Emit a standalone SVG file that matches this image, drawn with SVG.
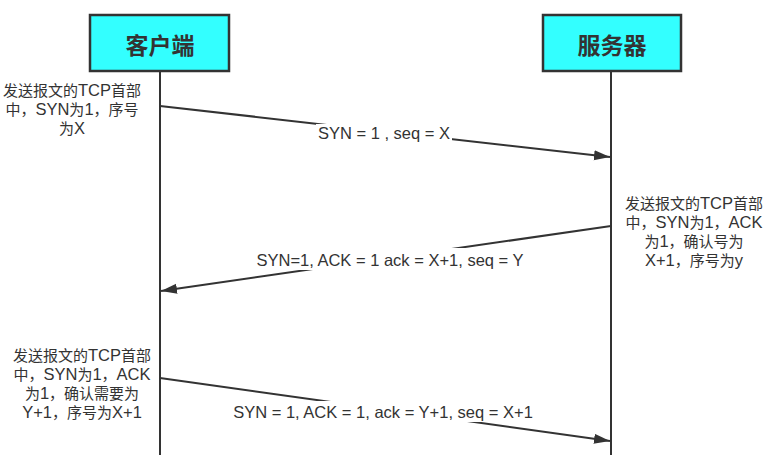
<svg xmlns="http://www.w3.org/2000/svg" width="782" height="455" viewBox="0 0 782 455">
<style>
.box{fill:#33FFFF;stroke:#333;stroke-width:2.5}
.title{font-family:"Noto Sans CJK SC","Microsoft YaHei",sans-serif;font-size:23px;font-weight:bold;fill:#333;text-anchor:middle;dominant-baseline:central}
.life{stroke:#333;stroke-width:2;fill:none}
.msg{stroke:#333;stroke-width:2;fill:none;marker-end:url(#ah)}
.t{font-family:"Liberation Sans","Noto Sans CJK SC",sans-serif;font-size:16.5px;fill:#333;text-anchor:middle}
.c{font-size:15px}
.bg{fill:#fff}
</style>
<defs>
<marker id="ah" markerUnits="userSpaceOnUse" markerWidth="18" markerHeight="12" refX="16" refY="5" orient="auto">
<path d="M0,0 L16,5 L0,10 z" fill="#333"/>
</marker>
</defs>
<rect width="782" height="455" fill="#fff"/>
<g id="client">
<rect class="box" x="90" y="15" width="139" height="56"/>
<text class="title" x="160" y="44">客户端</text>
<line class="life" x1="160" y1="71" x2="160" y2="455"/>
</g>
<g id="server">
<rect class="box" x="543" y="15" width="138" height="56"/>
<text class="title" x="612" y="44">服务器</text>
<line class="life" x1="611" y1="71" x2="611" y2="455"/>
</g>
<g id="connectors">
<path class="msg" d="M160,106 L610,157"/>
<path class="msg" d="M611,226 L161,291"/>
<path class="msg" d="M160,378 L610,441"/>
</g>
<g id="label1">
<rect class="bg" x="316" y="124" width="136" height="17"/>
<text class="t" x="384" y="139">SYN = 1 , seq = X</text>
</g>
<g id="label2">
<rect class="bg" x="255" y="248" width="270" height="22"/>
<text class="t" x="390" y="266">SYN=1, ACK = 1 ack = X+1, seq = Y</text>
</g>
<g id="label3">
<rect class="bg" x="231" y="401" width="304" height="21"/>
<text class="t" x="383" y="418">SYN = 1, ACK = 1, ack = Y+1, seq = X+1</text>
</g>
<g id="note1">
<text class="t" x="72" y="96"><tspan class="c">发送报文的</tspan>TCP<tspan class="c">首部</tspan></text>
<text class="t" x="72" y="115"><tspan class="c">中，</tspan>SYN<tspan class="c">为</tspan>1<tspan class="c">，序号</tspan></text>
<text class="t" x="72" y="134"><tspan class="c">为</tspan>X</text>
</g>
<g id="note2">
<text class="t" x="694" y="209"><tspan class="c">发送报文的</tspan>TCP<tspan class="c">首部</tspan></text>
<text class="t" x="694" y="228"><tspan class="c">中，</tspan>SYN<tspan class="c">为</tspan>1<tspan class="c">，</tspan>ACK</text>
<text class="t" x="694" y="247"><tspan class="c">为</tspan>1<tspan class="c">，确认号为</tspan></text>
<text class="t" x="694" y="266">X+1<tspan class="c">，序号为</tspan>y</text>
</g>
<g id="note3">
<text class="t" x="82" y="361"><tspan class="c">发送报文的</tspan>TCP<tspan class="c">首部</tspan></text>
<text class="t" x="82" y="380"><tspan class="c">中，</tspan>SYN<tspan class="c">为</tspan>1<tspan class="c">，</tspan>ACK</text>
<text class="t" x="82" y="399"><tspan class="c">为</tspan>1<tspan class="c">，确认需要为</tspan></text>
<text class="t" x="82" y="418">Y+1<tspan class="c">，序号为</tspan>X+1</text>
</g>
</svg>
